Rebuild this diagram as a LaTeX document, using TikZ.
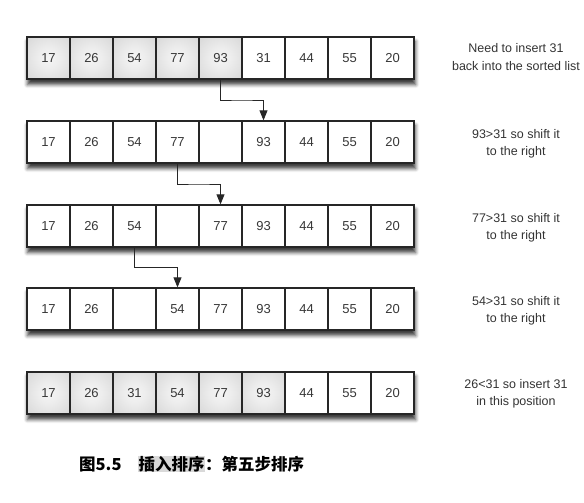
\documentclass[tikz,border=0pt]{standalone}
\usepackage{fontspec}
\setmainfont{Liberation Sans}
\newfontfamily\cjk{Noto Sans CJK SC}
\usetikzlibrary{arrows.meta,shadows.blur,backgrounds,calc}

\pgfdeclareradialshading{cellshade}{\pgfpoint{0bp}{0bp}}{%
  color(0bp)=(black!4); color(12bp)=(black!7); color(40bp)=(black!17);
  color(50bp)=(black!27); color(72bp)=(black!32)}

\begin{document}
\begin{tikzpicture}[x=1pt,y=-1pt,
    cell/.style={draw=black!85, line width=1.3pt, fill=white,
        minimum width=43pt, minimum height=42pt, inner sep=0pt,
        font=\fontsize{13}{15}\selectfont, text=black!78},
    done/.style={cell, shading=cellshade},
    note/.style={align=center, font=\fontsize{12.5}{17.5}\selectfont, text=black!80},
    move/.style={-{Triangle[width=8pt,length=10pt]}, line width=0.8pt, draw=black!85}]

\useasboundingbox (0,0) rectangle (584,503);

% the five rows of the list
\foreach \r/\y/\k/\vals in {1/58/5/{17,26,54,77,93,31,44,55,20},
                            2/142/0/{17,26,54,77,,93,44,55,20},
                            3/226/0/{17,26,54,,77,93,44,55,20},
                            4/309/0/{17,26,,54,77,93,44,55,20},
                            5/393/6/{17,26,31,54,77,93,44,55,20}}
  \foreach \v [count=\i] in \vals {
    \ifnum\i>\k \def\sty{cell}\else\def\sty{done}\fi
    \node[\sty] (r\r-\i) at (5.5+43*\i,\y) {\v};
  };

\begin{scope}[on background layer]
\foreach \r in {1,...,5}
  \path[fill=white, blur shadow={shadow xshift=1pt, shadow yshift=-5pt,
      shadow blur radius=3.5pt, shadow opacity=75}]
    (r\r-1.north west) rectangle (r\r-9.south east);
\end{scope}

% shifts
\draw[move] (r1-5.south) |- ($(r1-5.south)!.5!(r2-6.north)$) -| (r2-6.north);
\draw[move] (r2-4.south) |- ($(r2-4.south)!.5!(r3-5.north)$) -| (r3-5.north);
\draw[move] (r3-3.south) |- ($(r3-3.south)!.5!(r4-4.north)$) -| (r4-4.north);

% notes
\node[note] (note1) at (516,57) {Need to insert 31\\back into the sorted list};
\node[note] (note2) at (516,144) {93>31 so shift it\\to the right};
\node[note] (note3) at (516,228) {77>31 so shift it\\to the right};
\node[note] (note4) at (516,311) {54>31 so shift it\\to the right};
\node[note] (note5) at (516,394) {26<31 so insert 31\\in this position};

\node[anchor=west, inner sep=0pt, font=\cjk\bfseries\fontsize{16.5}{18}\selectfont]
  (caption) at (79,464) {图5.5\quad{\fboxsep=0.5pt\colorbox{black!15}{插入排序}}：第五步排序};

\end{tikzpicture}
\end{document}
